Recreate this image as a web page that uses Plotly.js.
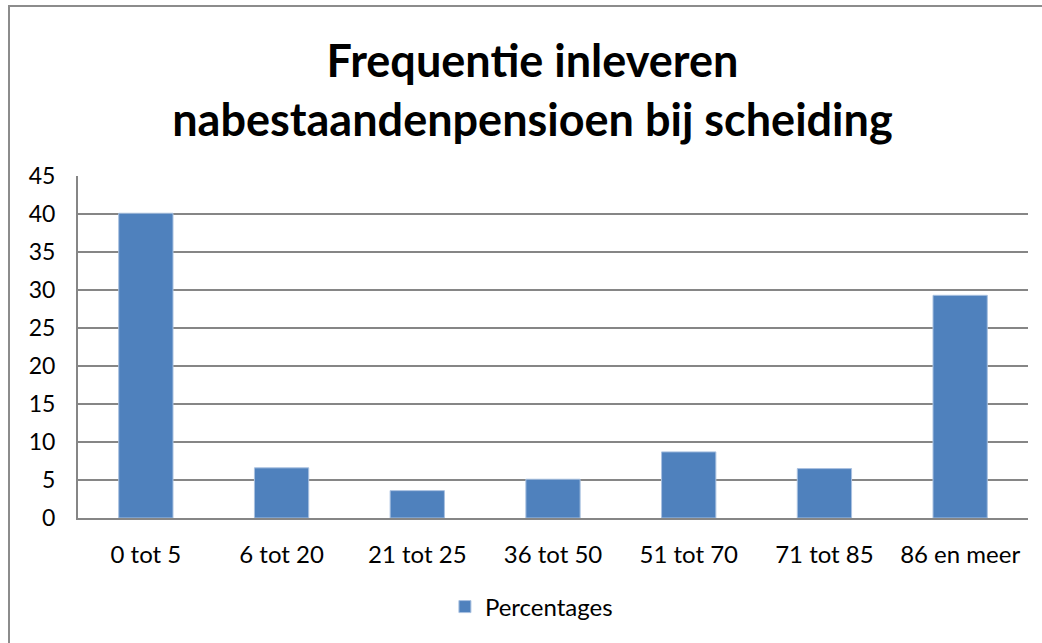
<!DOCTYPE html>
<html>
<head>
<meta charset="utf-8">
<script src="https://cdn.plot.ly/plotly-3.0.1.min.js"></script>
<style>
  html, body { margin: 0; padding: 0; background: #fff; }
  #frame { position: absolute; left: 8px; top: 5px; width: 1040px; height: 650px; border-left: 2px solid #8c8c8c; border-top: 2px solid #8c8c8c; box-sizing: border-box; pointer-events: none; z-index: 10; }
  #chart { width: 1042px; height: 643px; }
</style>
</head>
<body>
<div id="frame"></div>
<div id="chart"></div>
<script>
const categories = ["0 tot 5", "6 tot 20", "21 tot 25", "36 tot 50", "51 tot 70", "71 tot 85", "86 en meer"];
const percentages = [40.1, 6.6, 3.6, 5.1, 8.7, 6.5, 29.3];
const yTicks = [0, 5, 10, 15, 20, 25, 30, 35, 40, 45];
const seriesName = "Percentages";
const titleText = "Frequentie inleveren<br>nabestaandenpensioen bij scheiding";

const FONT = "Lato, 'Open Sans', sans-serif";

const trace = {
  type: "bar",
  x: categories,
  y: percentages,
  name: seriesName,
  marker: { color: "#4F81BD", line: { color: "#a9c1e0", width: 1 } },
  hoverinfo: "x+y"
};

const layout = {
  width: 1042,
  height: 643,
  margin: { l: 78, r: 14, t: 176, b: 125 },
  paper_bgcolor: "#ffffff",
  plot_bgcolor: "#ffffff",
  font: { family: FONT, size: 23, color: "#000000" },
  title: {
    text: titleText,
    font: { family: FONT, size: 45, color: "#000000", weight: "bold" },
    x: 0.511, xref: "container", xanchor: "center",
    y: 0.88, yref: "container", yanchor: "middle"
  },
  bargap: 0.6,
  showlegend: true,
  legend: {
    orientation: "h",
    x: 0.51, xanchor: "center", xref: "container",
    y: 0.056, yanchor: "middle", yref: "container",
    font: { family: FONT, size: 24, color: "#000" },
    itemwidth: 30
  },
  xaxis: {
    type: "category",
    showgrid: false,
    showline: true, linecolor: "#868686", linewidth: 2,
    ticks: "", ticklabelstandoff: 14,
    tickfont: { family: FONT, size: 24, color: "#000" },
    fixedrange: true
  },
  yaxis: {
    range: [0, 45],
    tickvals: yTicks,
    ticktext: yTicks.map(String),
    showgrid: true, gridcolor: "#868686", gridwidth: 2,
    zeroline: false,
    showline: true, linecolor: "#868686", linewidth: 2,
    ticks: "", ticklabelstandoff: 16,
    tickfont: { family: FONT, size: 23, color: "#000" },
    fixedrange: true
  }
};

Plotly.newPlot("chart", [trace], layout, { displayModeBar: false, staticPlot: false });
</script>
</body>
</html>
